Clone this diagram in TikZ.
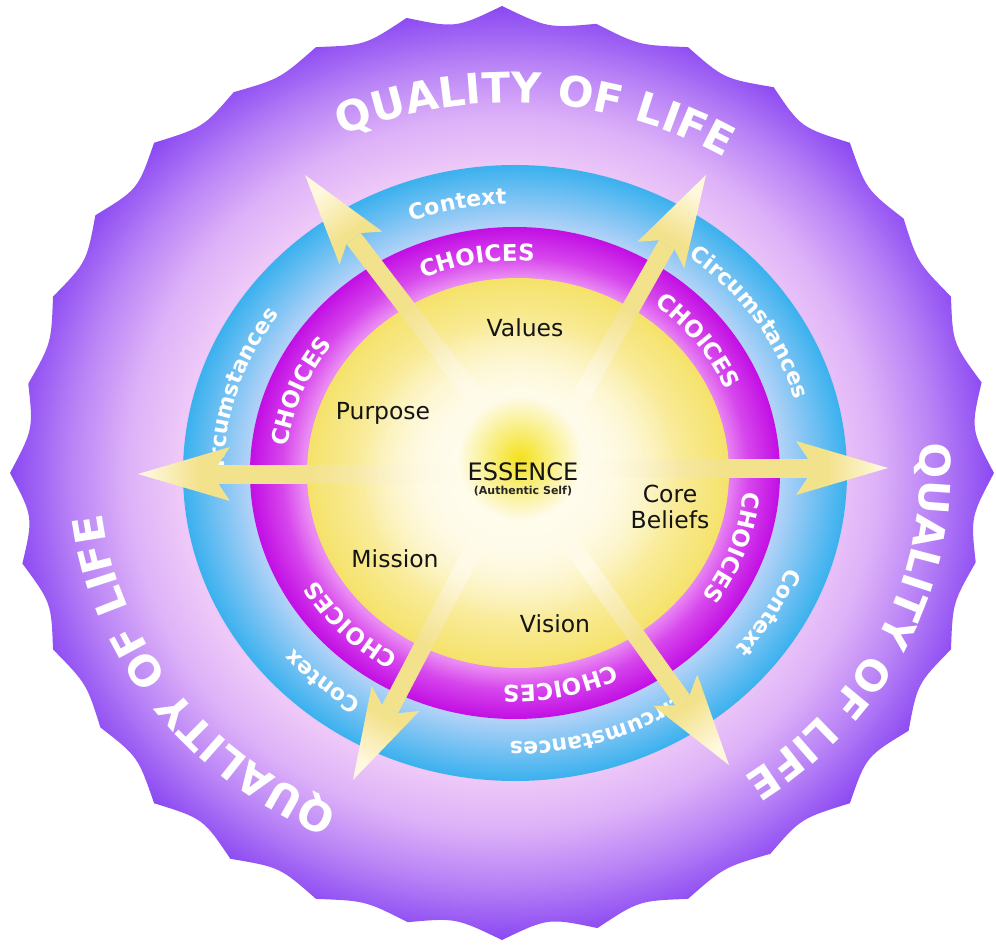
\documentclass[tikz,border=0pt]{standalone}
\usepackage{fontspec}
\setmainfont{DejaVu Sans}
\usetikzlibrary{calc,decorations.text,fadings}

\definecolor{violetE}{RGB}{138,72,242}
\definecolor{lavM}{RGB}{184,130,246}
\definecolor{lavL}{RGB}{222,178,248}
\definecolor{pinkL}{RGB}{237,200,248}
\definecolor{blueO}{RGB}{58,177,238}
\definecolor{blueI}{RGB}{181,211,248}
\definecolor{magO}{RGB}{194,14,228}
\definecolor{magM}{RGB}{214,70,236}
\definecolor{magI}{RGB}{234,140,243}
\definecolor{coreC}{RGB}{255,252,236}
\definecolor{coreM}{RGB}{251,240,176}
\definecolor{coreE}{RGB}{245,226,106}
\definecolor{arCream}{RGB}{255,249,226}
\definecolor{arYel}{RGB}{243,226,140}
\definecolor{arTip}{RGB}{255,248,222}
\definecolor{glowY}{RGB}{244,226,30}

\pgfdeclareradialshading{sealshade}{\pgfpoint{0bp}{0bp}}{color(0bp)=(pinkL); color(16.5bp)=(pinkL); color(19bp)=(lavL); color(22bp)=(lavM); color(25bp)=(violetE); color(50bp)=(violetE)}
\pgfdeclareradialshading{blueshade}{\pgfpoint{0bp}{0bp}}{color(0bp)=(blueI); color(19.9bp)=(blueI); color(25bp)=(blueO); color(50bp)=(blueO)}
\pgfdeclareradialshading{magshade}{\pgfpoint{0bp}{0bp}}{color(0bp)=(magI); color(19.9bp)=(magI); color(22bp)=(magM); color(25bp)=(magO); color(50bp)=(magO)}
\pgfdeclareradialshading{coreshade}{\pgfpoint{0bp}{0bp}}{color(0bp)=(coreC); color(8bp)=(coreC); color(16bp)=(coreM); color(25bp)=(coreE); color(50bp)=(coreE)}
\pgfdeclarehorizontalshading{shaftshade}{100bp}{color(0bp)=(arCream); color(30bp)=(arCream); color(58bp)=(arYel); color(100bp)=(arYel)}
\pgfdeclarehorizontalshading{headshade}{100bp}{color(0bp)=(arYel); color(42bp)=(arYel); color(72bp)=(arTip); color(100bp)=(arTip)}

\tikzfading[name=glowfade, inner color=transparent!0, outer color=transparent!100]
\pgfdeclareradialshading{coverfadeshade}{\pgfpoint{0bp}{0bp}}{color(0bp)=(white); color(10bp)=(white); color(25bp)=(black); color(50bp)=(black)}
\pgfdeclarefading{coverfade}{\pgfuseshading{coverfadeshade}}

\newcommand\qolfont{\fontsize{42}{42}\selectfont\bfseries}
\newcommand\chfont{\fontsize{23}{23}\selectfont\bfseries}
\newcommand\blfont{\fontsize{22}{22}\selectfont\bfseries}

% #1 centre x, #2 x radius, #3 y radius, #4 centre angle, #5 font, #6 text
\newcommand\arctext[6]{%
  \pgfmathsetmacro\atA{#4+70}%
  \pgfmathsetmacro\atB{#4-70}%
  \path[decorate, decoration={text along path, text align=center, text color=white, text={|#5|#6}}]
    ({#1+#2*cos(\atA)},{#3*sin(\atA)}) arc[start angle=\atA, end angle=\atB, x radius=#2, y radius=#3];
}

% #1 start coordinate, #2 tip coordinate, #3 direction angle
\newcommand\qarrow[3]{%
  \coordinate (qJ) at ($(#2)!80pt!(#1)$);
  \coordinate (qB) at ($(#2)!92pt!(#1)$);
  \shade[shading=shaftshade, shading angle=#3]
    ($(#1)!9pt!90:(#2)$) -- ($(qJ)!9pt!-90:(#1)$) -- ($(qJ)!9pt!90:(#1)$) -- ($(#1)!9pt!-90:(#2)$) -- cycle;
  \shade[shading=headshade, shading angle=#3]
    ($(qJ)!9pt!-90:(#1)$) -- ($(qB)!27pt!-90:(#1)$) -- (#2) -- ($(qB)!27pt!90:(#1)$) -- ($(qJ)!9pt!90:(#1)$) -- cycle;
}

\tikzset{
  lbl/.style={font=\fontsize{23.5}{25}\selectfont, text=black!92, inner sep=0pt}
}

\begin{document}
\begin{tikzpicture}[x=1pt,y=1pt]
\useasboundingbox (-515,-472) rectangle (481,473);
\fill[white] (-515,-472) rectangle (481,473);

% outer scalloped seal
\shade[shading=sealshade] ({-13+492},0)
  \foreach \k [evaluate=\k as \rr using {3*mod(\k*5,4)}] in {1,...,32}{
    .. controls ({-13+471*cos(11.25*\k-5.625)},{447*sin(11.25*\k-5.625)}) .. ({-13+(492-\rr)*cos(11.25*\k)},{(467-\rr)*sin(11.25*\k)})
  } -- cycle;

% rings
\shade[shading=blueshade] (0,0) ellipse[x radius=332, y radius=308];
\shade[shading=magshade] (0,0) ellipse[x radius=265, y radius=246];
\shade[shading=coreshade] (3,0) ellipse[x radius=211, y radius=195];

% QUALITY OF LIFE
\arctext{-5}{410}{370}{86}{\qolfont}{QUALITY OF LIFE}
\arctext{-5}{410}{370}{-24}{\qolfont}{QUALITY OF LIFE}
\arctext{-5}{410}{370}{214}{\qolfont}{QUALITY OF LIFE}

% blue ring
\arctext{0}{291}{269}{102}{\blfont}{Context}
\arctext{0}{291}{269}{33}{\blfont}{Circumstances}
\arctext{0}{291}{269}{-29}{\blfont}{Context}
\arctext{0}{291}{269}{-72}{\blfont}{Circumstances}
\arctext{0}{291}{269}{227.5}{\blfont}{Contex}
\arctext{0}{291}{269}{164}{\blfont}{Circumstances}

% magenta ring
\arctext{0}{229}{212}{100}{\chfont}{CHOICES}
\arctext{0}{229}{212}{36}{\chfont}{CHOICES}
\arctext{0}{229}{212}{-19}{\chfont}{CHOICES}
\arctext{0}{229}{212}{-78}{\chfont}{CHOICES}
\arctext{0}{229}{212}{-137}{\chfont}{CHOICES}
\arctext{0}{229}{212}{159}{\chfont}{CHOICES}

% arrows
\coordinate (s1) at (-20,50);   \coordinate (t1) at (-210,298);
\coordinate (s2) at (51,50);    \coordinate (t2) at (191,298);
\coordinate (s3) at (30,5);     \coordinate (t3) at (373,5);
\coordinate (s4) at (-30,-1);   \coordinate (t4) at (-377,-1);
\coordinate (s5) at (-34,-62);  \coordinate (t5) at (-162,-307);
\coordinate (s6) at (49,-62);   \coordinate (t6) at (214,-292);
\qarrow{s1}{t1}{127.5}
\qarrow{s2}{t2}{60.6}
\qarrow{s3}{t3}{0}
\qarrow{s4}{t4}{180}
\qarrow{s5}{t5}{242.3}
\qarrow{s6}{t6}{-54.3}

% soft cover where the arrows start, then the central glow
\fill[coreC, path fading=coverfade] (3,3) ellipse[x radius=160, y radius=150];
\fill[glowY, path fading=glowfade] (5,15) circle (62);

% labels
\node[lbl, anchor=base] (values) at (10,136) {Values};
\node[lbl, anchor=base] (purpose) at (-132,53) {Purpose};
\node[lbl, anchor=base] (mission) at (-120,-94) {Mission};
\node[lbl, anchor=base] (vision) at (40,-159) {Vision};
\node[lbl, anchor=base] (core) at (155,-29) {Core};
\node[lbl, anchor=base] (beliefs) at (155,-55) {Beliefs};
\node[font=\fontsize{24}{24}\selectfont, text=black!92, inner sep=0pt, anchor=base] (essence) at (8,-7) {ESSENCE};
\node[font=\fontsize{11}{11}\selectfont\bfseries, text=black!85, inner sep=0pt, anchor=base] (auth) at (8,-21) {(Authentic Self)};
\end{tikzpicture}
\end{document}
